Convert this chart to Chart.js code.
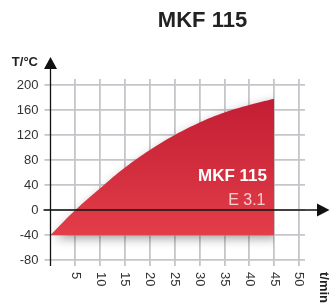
<!DOCTYPE html>
<html>
<head>
<meta charset="utf-8">
<script src="https://cdn.jsdelivr.net/npm/chart.js@4"></script>
<style>
  html, body { margin: 0; padding: 0; background: #fff; }
  canvas { display: block; }
</style>
</head>
<body>
<canvas id="chart" width="331" height="306"></canvas>
<script>
// heating curve
const times = [0, 5, 10, 15, 20, 25, 30, 35, 40, 45];
const temps = [-40, 0, 35, 68, 96, 120, 140, 156, 168, 178];
const xTicks = [5, 10, 15, 20, 25, 30, 35, 40, 45, 50];
const yTicks = [-80, -40, 0, 40, 80, 120, 160, 200];

const FONT = "'Liberation Sans', Arial, Helvetica, sans-serif";

var ctx = document.getElementById('chart').getContext('2d');

// gradient for the filled area, built from the y scale
var redFill = function (c) {
    const chart = c.chart;
    if (!chart.chartArea) return '#d22e3c';
    const y = chart.scales.y;
    const g = chart.ctx.createLinearGradient(0, y.getPixelForValue(180), 0, y.getPixelForValue(-40));
    g.addColorStop(0, '#c21d33');
    g.addColorStop(1, '#e23d48');
    return g;
};

// soft drop shadow behind the area
const shadowPlugin = {
    id: 'shadow',
    beforeDatasetsDraw(chart) {
        const c = chart.ctx;
        c.save();
        c.shadowColor = 'rgba(0,0,0,0.4)';
        c.shadowBlur = 11;
        c.shadowOffsetX = 4;
        c.shadowOffsetY = 3;
    },
    afterDatasetsDraw(chart) {
        chart.ctx.restore();
    }
};

// axes with arrows, rotated x labels, titles
const decoPlugin = {
    id: 'deco',
    afterDraw(chart) {
        const c = chart.ctx;
        const xs = chart.scales.x, ys = chart.scales.y;
        const x0 = xs.getPixelForValue(0);
        const y0 = ys.getPixelForValue(0);
        const area = chart.chartArea;
        c.save();
        c.strokeStyle = '#111';
        c.fillStyle = '#111';
        c.lineWidth = 1.3;
        // y axis
        c.beginPath();
        c.moveTo(x0, area.bottom + 6);
        c.lineTo(x0, 66);
        c.stroke();
        c.beginPath();
        c.moveTo(x0, 57);
        c.lineTo(x0 + 6.5, 69);
        c.lineTo(x0 - 6.5, 69);
        c.closePath();
        c.fill();
        // x axis
        c.beginPath();
        c.moveTo(x0 - 7, y0);
        c.lineTo(320, y0);
        c.stroke();
        c.beginPath();
        c.moveTo(329.5, y0);
        c.lineTo(317, y0 - 6.5);
        c.lineTo(317, y0 + 6.5);
        c.closePath();
        c.fill();

        // x tick labels, rotated clockwise
        c.fillStyle = '#333';
        c.font = '13px ' + FONT;
        c.textAlign = 'left';
        c.textBaseline = 'middle';
        for (const t of xTicks) {
            c.save();
            c.translate(xs.getPixelForValue(t), area.bottom + 12);
            c.rotate(Math.PI / 2);
            c.fillText(String(t), 0, 0);
            c.restore();
        }
        // x axis title
        c.fillStyle = '#222';
        c.font = 'bold 13px ' + FONT;
        c.save();
        c.translate(324, area.bottom + 12);
        c.rotate(Math.PI / 2);
        c.fillText('t/min', 0, 0);
        c.restore();
        // y axis title
        c.textAlign = 'right';
        c.fillText('T/°C', 38, 62);

        // chart title
        c.textAlign = 'center';
        c.textBaseline = 'alphabetic';
        c.font = 'bold 22px ' + FONT;
        c.fillText('MKF 115', 202.5, 26.5);

        // labels inside the area
        c.textAlign = 'right';
        c.fillStyle = '#ffffff';
        c.font = 'bold 17px ' + FONT;
        c.fillText('MKF 115', 267, 181);
        c.fillStyle = '#f6cdd0';
        c.font = '16px ' + FONT;
        c.fillText('E 3.1', 265.5, 205);
        c.restore();
    }
};

var myChart = new Chart(ctx, {
    type: 'line',
    data: {
        datasets: [{
            data: times.map((t, i) => ({ x: t, y: temps[i] })),
            fill: { value: -40 },
            backgroundColor: redFill,
            borderWidth: 0,
            borderColor: 'rgba(0,0,0,0)',
            pointRadius: 0,
            tension: 0.4
        }]
    },
    options: {
        responsive: false,
        animation: false,
        layout: { padding: { left: 14.5, right: 26, top: 79, bottom: 0 } },
        plugins: {
            legend: { display: false },
            tooltip: { enabled: false }
        },
        scales: {
            x: {
                type: 'linear',
                min: 0,
                max: 51.2,
                afterBuildTicks: s => { s.ticks = xTicks.map(v => ({ value: v })); },
                afterFit: s => { s.height = 46; },
                ticks: { display: false },
                border: { display: false },
                grid: { color: '#c6c6ca', lineWidth: 1.8, tickLength: 6 }
            },
            y: {
                min: -80,
                max: 209.6,
                afterBuildTicks: s => { s.ticks = yTicks.map(v => ({ value: v })); },
                afterFit: s => { s.width = 36; },
                ticks: { color: '#333', font: { size: 13, family: FONT }, padding: 6 },
                border: { display: false },
                grid: { color: '#c6c6ca', lineWidth: 1.8, tickLength: 6 }
            }
        }
    },
    plugins: [shadowPlugin, decoPlugin]
});
</script>
</body>
</html>
